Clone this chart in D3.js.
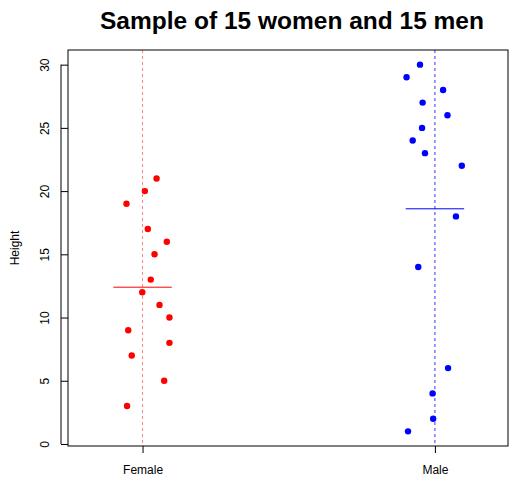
<!DOCTYPE html>
<html>
<head>
<meta charset="utf-8">
<script src="https://cdn.jsdelivr.net/npm/d3@7"></script>
<style>
  html, body { margin: 0; padding: 0; background: #fff; }
  svg { display: block; }
  text { font-family: "Liberation Sans", Arial, sans-serif; }
</style>
</head>
<body>
<script>
// ---- data ----
const categories = ["Female", "Male"];
const femaleHeights = [21, 20, 19, 17, 16, 15, 13, 12, 11, 10, 9, 8, 7, 5, 3];
const femaleJitter  = [0.048, 0.008, -0.055, 0.018, 0.083, 0.041, 0.028, -0.001, 0.058, 0.092, -0.049, 0.092, -0.037, 0.074, -0.053];
const maleHeights   = [30, 29, 28, 27, 26, 25, 24, 23, 22, 18, 14, 6, 4, 2, 1];
const maleJitter    = [-0.051, -0.097, 0.028, -0.042, 0.043, -0.044, -0.076, -0.034, 0.092, 0.072, -0.057, 0.045, -0.008, -0.006, -0.092];
const yTicks = [0, 5, 10, 15, 20, 25, 30];
const seriesColors = ["#ff0000", "#0000ff"];
const guideColors = ["#ff8080", "#3333ff"];

const groups = [
  { name: categories[0], pos: 1, values: femaleHeights, jitter: femaleJitter, color: seriesColors[0], guide: guideColors[0] },
  { name: categories[1], pos: 2, values: maleHeights, jitter: maleJitter, color: seriesColors[1], guide: guideColors[1] }
];

const W = 509, H = 477;
const plot = { left: 68, right: 508, top: 50, bottom: 446 };

const svg = d3.select("body").append("svg").attr("width", W).attr("height", H);

const x = d3.scaleLinear().domain([0.745, 2.25]).range([plot.left, plot.right]);
const y = d3.scaleLinear().domain([-0.16, 31.16]).range([plot.bottom, plot.top]);

// guide lines (dashed verticals)
groups.forEach(g => {
  svg.append("line")
    .attr("x1", x(g.pos)).attr("x2", x(g.pos))
    .attr("y1", plot.top).attr("y2", plot.bottom)
    .attr("stroke", g.guide).attr("stroke-width", 1)
    .attr("stroke-dasharray", "3,3");
});

// mean lines
groups.forEach(g => {
  const m = d3.mean(g.values);
  svg.append("line")
    .attr("x1", x(g.pos - 0.1)).attr("x2", x(g.pos + 0.1))
    .attr("y1", y(m)).attr("y2", y(m))
    .attr("stroke", g.color).attr("stroke-width", 1);
});

// points
groups.forEach(g => {
  svg.append("g").selectAll("circle")
    .data(g.values.map((v, i) => ({ v, j: g.jitter[i] })))
    .join("circle")
    .attr("cx", d => x(g.pos + d.j))
    .attr("cy", d => y(d.v))
    .attr("r", 3.2)
    .attr("fill", g.color);
});

// box
svg.append("rect")
  .attr("x", plot.left).attr("y", plot.top)
  .attr("width", plot.right - plot.left).attr("height", plot.bottom - plot.top)
  .attr("fill", "none").attr("stroke", "#000").attr("stroke-width", 1);

// y axis
const yAxis = d3.axisLeft(y).tickValues(yTicks).tickSize(7).tickPadding(0);
const ya = svg.append("g").attr("transform", `translate(${plot.left - 7},0)`).call(yAxis);
ya.select(".domain").attr("d", `M0,${y(0)}V${y(30)}`).attr("stroke", "#000");
ya.selectAll(".tick line").attr("stroke", "#000").attr("x1", 0).attr("x2", 7);
ya.selectAll(".tick text")
  .attr("x", 0).attr("dy", 0)
  .attr("transform", "translate(-16,0) rotate(-90)")
  .attr("text-anchor", "middle")
  .attr("dominant-baseline", "central")
  .style("font-size", "12px").attr("fill", "#000");

// x axis
const xAxis = d3.axisBottom(x).tickValues(groups.map(g => g.pos))
  .tickFormat((d, i) => categories[i]).tickSize(7).tickPadding(12);
const xa = svg.append("g").attr("transform", `translate(0,${plot.bottom})`).call(xAxis);
xa.select(".domain").remove();
xa.selectAll(".tick line").attr("stroke", "#000");
xa.selectAll(".tick text").style("font-size", "12px").attr("fill", "#000");

// axis label
svg.append("text")
  .attr("transform", `translate(19,${(plot.top + plot.bottom) / 2}) rotate(-90)`)
  .attr("text-anchor", "middle")
  .style("font-size", "12px")
  .text("Height");

// title
svg.append("text")
  .attr("x", (plot.left + plot.right) / 2 + 4).attr("y", 29)
  .attr("text-anchor", "middle")
  .style("font-size", "24.5px").style("font-weight", "bold")
  .text("Sample of 15 women and 15 men");
</script>
</body>
</html>
